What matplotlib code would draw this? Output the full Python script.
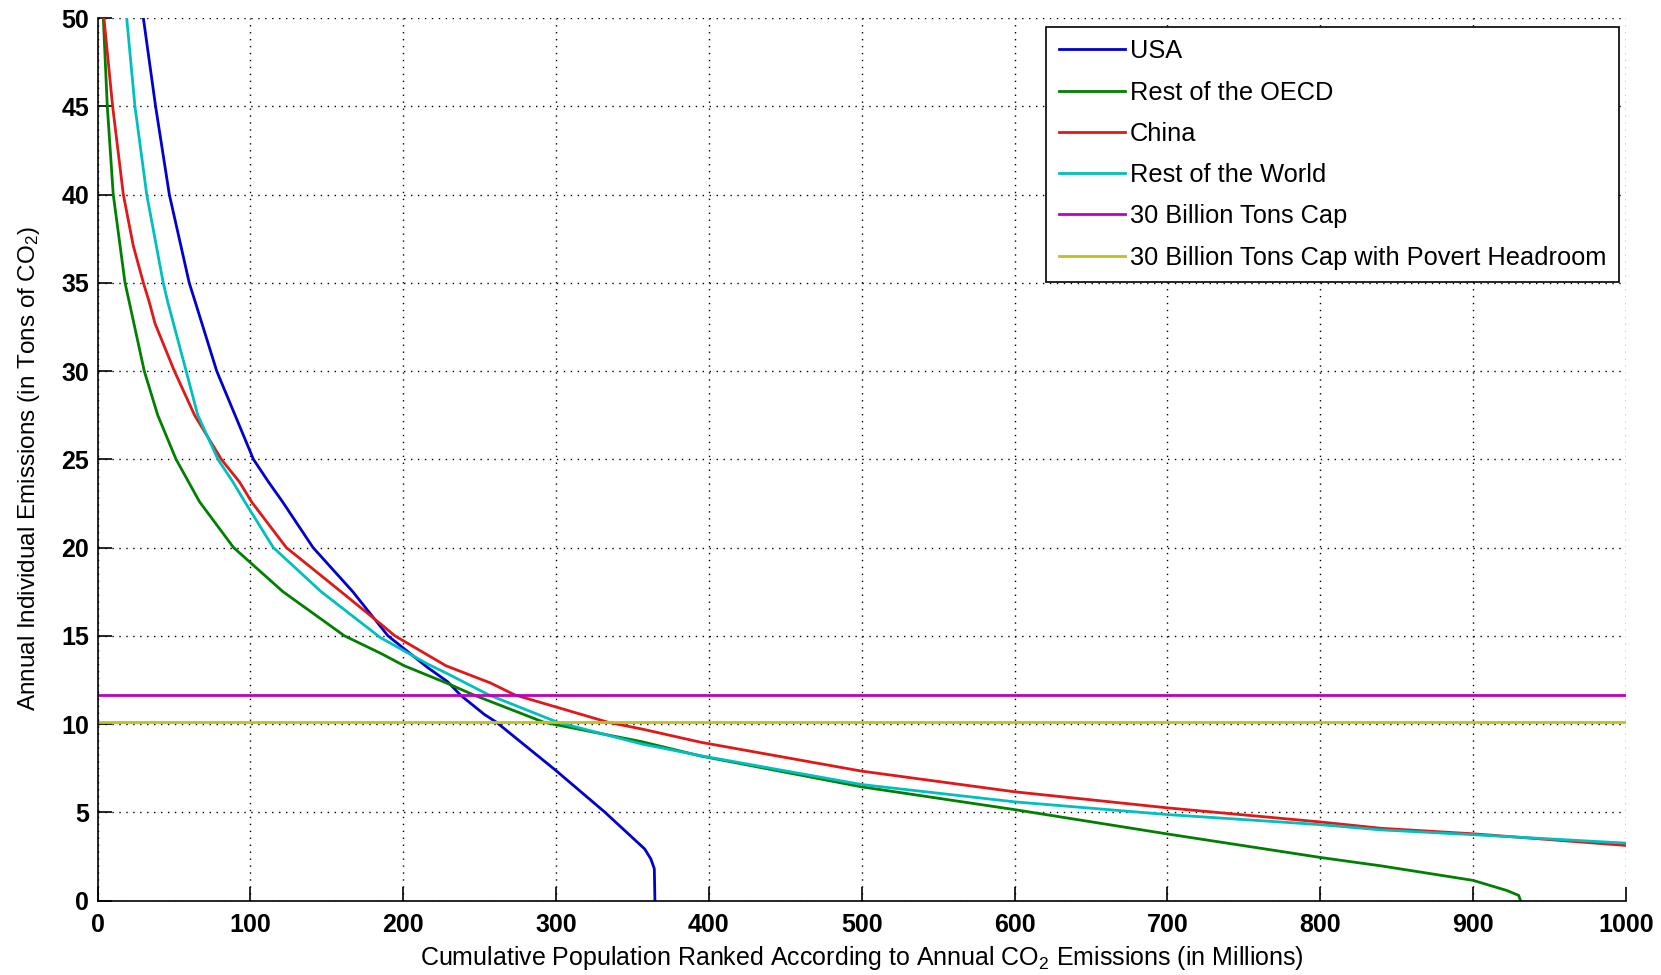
import matplotlib
matplotlib.use("Agg")
import matplotlib.pyplot as plt

plt.rcParams['font.family'] = ['Liberation Sans', 'DejaVu Sans']
plt.rcParams['mathtext.fontset'] = 'custom'
plt.rcParams['mathtext.rm'] = 'Liberation Sans'
plt.rcParams['mathtext.default'] = 'rm'

# ---- data ----
usa_x = [30, 38, 47, 60, 64, 78, 90, 102, 112, 121, 141, 167, 190, 216, 229, 238,
         253, 261, 300, 332, 358, 362, 364.3, 364.7]
usa_y = [50, 45, 40, 35, 33.9, 30, 27.5, 25, 23.7, 22.6, 20, 17.5, 15, 13.2, 12.4, 11.6,
         10.55, 10.1, 7.36, 5.0, 2.92, 2.36, 1.8, 0]

oecd_x = [3.8, 6.4, 10.3, 18, 20.8, 30.6, 39.4, 51.4, 66.7, 89, 121.3, 161.5, 185.4,
          200.7, 229, 246, 292, 356, 395, 500, 600, 700, 800, 840, 900, 922, 929.8, 931]
oecd_y = [50, 45, 40, 35, 33.9, 30, 27.5, 25, 22.6, 20, 17.5, 15, 14.0,
          13.3, 12.3, 11.65, 10.1, 9.0, 8.18, 6.44, 5.15, 3.77, 2.44, 1.96, 1.14, 0.57, 0.29, 0]

china_x = [4.2, 9.9, 16.9, 23.4, 30, 33.9, 37.6, 50.3, 63.5, 81, 93, 100.7, 123.5,
           159.3, 185.4, 194.5, 228, 257, 273, 334, 356, 395, 500, 600, 700, 800, 840, 900, 1000]
china_y = [50, 45, 40, 37.1, 35, 33.9, 32.7, 30, 27.5, 25, 23.7, 22.6, 20,
           17.5, 15.66, 15, 13.3, 12.33, 11.65, 10.1, 9.72, 8.96, 7.33, 6.16, 5.25, 4.45, 4.09, 3.78, 3.12]

row_x = [19.1, 24.5, 32.2, 43, 46, 58, 65.6, 78.8, 88.7, 96.3, 115, 146.3, 185, 216,
         229, 256, 301, 356, 395, 500, 600, 700, 800, 840, 900, 1000]
row_y = [50, 45, 40, 35, 33.9, 30, 27.5, 25, 23.7, 22.6, 20, 17.5, 14.9, 13.4,
         12.85, 11.65, 10.1, 8.87, 8.2, 6.57, 5.59, 4.87, 4.30, 4.0, 3.73, 3.25]

cap_x = [0, 1000]
cap_30 = 11.65
cap_poverty = 10.13

labels = ['USA', 'Rest of the OECD', 'China', 'Rest of the World',
          '30 Billion Tons Cap', '30 Billion Tons Cap with Povert Headroom']
colors = ['#0000d0', '#007f00', '#e01818', '#00bfbf', '#bf00bf', '#c0c020']

xticks = list(range(0, 1001, 100))
yticks = list(range(0, 51, 5))

# ---- figure ----
fig = plt.figure(figsize=(16.61, 9.75), dpi=100)
ax = fig.add_axes([0.0587, 0.0764, 0.9202, 0.9051])

series = [(usa_x, usa_y), (oecd_x, oecd_y), (china_x, china_y), (row_x, row_y),
          (cap_x, [cap_30] * len(cap_x)), (cap_x, [cap_poverty] * len(cap_x))]
for (xs, ys), lab, col in zip(series, labels, colors):
    ax.plot(xs, ys, color=col, lw=2.0, label=lab)

ax.set_xlim(0, 1000)
ax.set_ylim(0, 50)
ax.set_xticks(xticks)
ax.set_yticks(yticks)
ax.grid(True, color='black', linestyle=(0, (1, 4)), linewidth=1.0)

for s in ['top', 'right']:
    ax.spines[s].set_visible(False)
for s in ['left', 'bottom']:
    ax.spines[s].set_linewidth(1.2)
ax.tick_params(direction='in', length=10, width=1.2, labelsize=18)
ax.tick_params(axis='x', pad=9)
ax.tick_params(axis='y', pad=6)
for lbl in ax.get_xticklabels() + ax.get_yticklabels():
    lbl.set_fontweight('bold')

ax.set_xlabel('Cumulative Population Ranked According to Annual CO$_2$ Emissions (in Millions)',
              fontsize=18, labelpad=5)
ax.set_ylabel('Annual Individual Emissions (in Tons of CO$_2$)', fontsize=17.5, labelpad=14)
ax.yaxis.label.set_y(0.49)

leg = ax.legend(loc='upper right', bbox_to_anchor=(0.9954, 0.9904), borderaxespad=0,
                fontsize=18.3, fancybox=False, framealpha=1, edgecolor='black',
                handlelength=2.6, handletextpad=0.2, labelspacing=0.68, borderpad=0.5)
leg.get_frame().set_linewidth(1.2)

fig.savefig('out.png', dpi=100)
